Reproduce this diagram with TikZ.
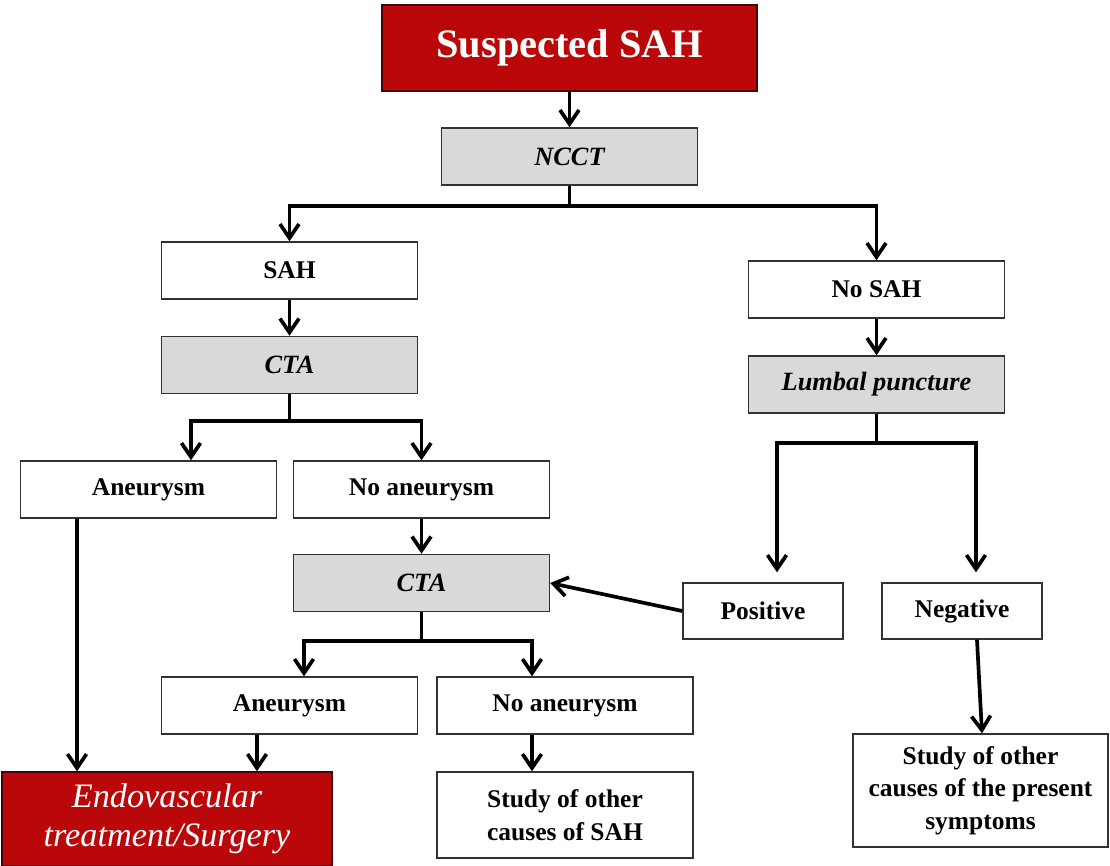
\documentclass[tikz,border=0pt]{standalone}
\usepackage{fontspec}
\setmainfont{Liberation Serif}
\usetikzlibrary{arrows.meta}
\definecolor{sahred}{RGB}{186,8,10}
\definecolor{boxgray}{RGB}{217,217,217}
\definecolor{boxline}{RGB}{50,50,50}

\begin{document}
\begin{tikzpicture}[x=0.02cm,y=-0.02cm,
  box/.style={draw=boxline,line width=0.8pt,fill=white,inner sep=0pt,align=center,
    font=\fontsize{14.5}{18.5}\selectfont\bfseries},
  test/.style={box,fill=boxgray,font=\fontsize{15}{18.5}\selectfont\bfseries\itshape},
  wide/.style={minimum width=5.12cm,minimum height=1.14cm},
  redbox/.style={draw=black!60!sahred,line width=0.8pt,fill=sahred,text=white,inner sep=0pt,align=center},
  arr/.style={line width=2.1pt,-{Straight Barb[length=2.8mm,width=3.8mm]}}]
\useasboundingbox (0,0) rectangle (1110,866);
\node[redbox,minimum width=7.5cm,minimum height=1.72cm,font=\fontsize{23}{28}\selectfont\bfseries] (sus) at (569.5,48) {Suspected SAH};
\node[test,wide] (ncct) at (569.5,156.5) {NCCT};
\node[box,wide] (sah) at (289.5,270.5) {SAH};
\node[test,wide] (cta1) at (289.5,365) {CTA};
\node[box,wide] (nosah) at (876.5,289.5) {No SAH};
\node[test,wide] (lp) at (876.5,384.5) {Lumbal puncture};
\node[box,wide] (an1) at (148.5,489.5) {Aneurysm};
\node[box,wide] (noan1) at (421.5,489.5) {No aneurysm};
\node[test,wide] (cta2) at (421.5,583) {CTA};
\node[box,minimum width=3.2cm,minimum height=1.12cm] (pos) at (763,611) {Positive};
\node[box,minimum width=3.2cm,minimum height=1.12cm] (neg) at (962,611) {Negative};
\node[box,wide] (an2) at (289.5,705.5) {Aneurysm};
\node[box,wide] (noan2) at (565,705.5) {No aneurysm};
\node[redbox,minimum width=6.6cm,minimum height=1.88cm,font=\fontsize{19.5}{22}\selectfont\itshape] (endo) at (167,819) {Endovascular\\treatment/Surgery};
\node[box,minimum width=5.12cm,minimum height=1.72cm] (study1) at (565,815) {Study of other\\causes of SAH};
\node[box,minimum width=5.1cm,minimum height=2.26cm] (study2) at (980.5,790.5) {Study of other\\causes of the present\\symptoms};
\draw[arr] (sus) -- (ncct);
\draw[arr] (ncct.south) -- ++(0,20) -| (sah.north);
\draw[arr] (ncct.south) -- ++(0,20) -| (nosah.north);
\draw[arr] (sah) -- (cta1);
\draw[arr] (nosah) -- (lp);
\draw[arr] (cta1.south) -- ++(0,27) -| ([xshift=0.85cm]an1.north);
\draw[arr] (cta1.south) -- ++(0,27) -| (noan1.north);
\draw[arr] (noan1) -- (cta2);
\draw[arr] (pos.west) -- (cta2.east);
\draw[arr,shorten >=0.2cm] (lp.south) -- ++(0,29) -| ([xshift=0.28cm]pos.north);
\draw[arr,shorten >=0.2cm] (lp.south) -- ++(0,29) -| ([xshift=0.28cm]neg.north);
\draw[arr] (cta2.south) -- ++(0,29) -| ([xshift=0.29cm]an2.north);
\draw[arr] (cta2.south) -- ++(0,29) -| ([xshift=-0.66cm]noan2.north);
\draw[arr] ([xshift=-1.43cm]an1.south) -- ([xshift=-1.8cm]endo.north);
\draw[arr] ([xshift=-0.65cm]an2.south) -- ([xshift=1.8cm]endo.north);
\draw[arr] ([xshift=-0.66cm]noan2.south) -- ([xshift=-0.66cm]study1.north);
\draw[arr] ([xshift=0.3cm]neg.south) -- ([xshift=0.03cm]study2.north);
\end{tikzpicture}
\end{document}
